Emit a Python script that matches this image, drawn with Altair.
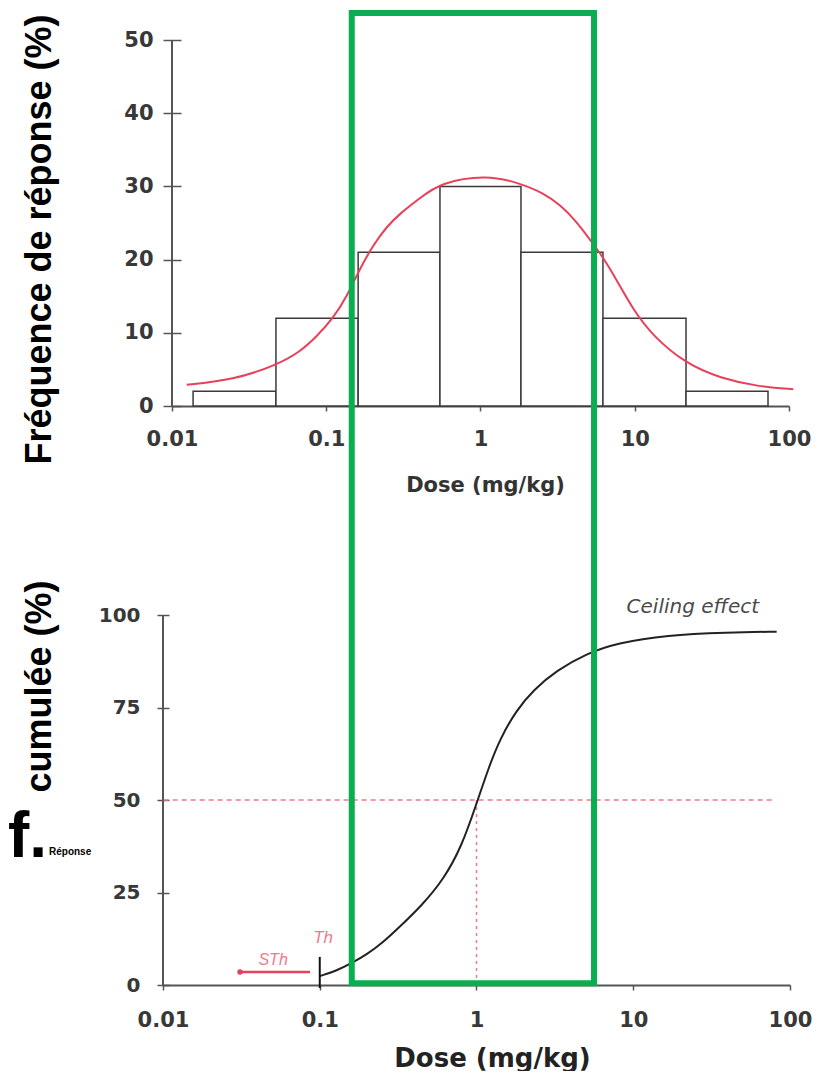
import altair as alt
import pandas as pd

# ---------------- data ----------------
# top panel: histogram (log-dose bins) and fitted curve
bin_lo = [0.0137, 0.0472, 0.161, 0.546, 1.83, 6.22, 21.5]
bin_hi = [0.0472, 0.161, 0.546, 1.83, 6.22, 21.5, 73.1]
bin_freq = [2, 12, 21, 30, 21, 12, 2]

fit_dose = [0.01245, 0.0249, 0.0477, 0.0676, 0.0867, 0.111, 0.1355, 0.1656, 0.2018, 0.2466,
            0.3006, 0.4055, 0.546, 1.097, 1.82, 2.55, 3.28, 4.2, 5.13, 6.2, 7.64, 9.79,
            13.2, 21.4, 35.7, 64.9, 106.6]
fit_freq = [2.9, 3.55, 5.6, 7.4, 9.5, 12.0, 14.9, 18.8, 22.0, 24.5,
            26.3, 28.4, 30.5, 31.6, 30.4, 29.1, 27.5, 25.2, 22.7, 20.4, 17.2, 13.1,
            9.5, 5.8, 3.8, 2.6, 2.3]

# bottom panel: cumulative response
cum_dose = [0.1, 0.13, 0.161, 0.2, 0.25, 0.325, 0.45, 0.614, 0.804, 1.0,
            1.19, 1.41, 1.8, 2.3, 3.24, 5.04, 7.84, 16.3, 40, 82.2]
cum_pct = [2.4, 4.0, 6.0, 8.3, 11.3, 15.8, 21.6, 28.4, 37.4, 49.0,
           58.5, 66.5, 74.3, 79.7, 85.0, 89.6, 92.4, 94.6, 95.3, 95.5]

x_ticks = [0.01, 0.1, 1, 10, 100]
top_y_ticks = [0, 10, 20, 30, 40, 50]
bot_y_ticks = [0, 25, 50, 75, 100]

ed50_dose = [1.0]
ed50_pct = [50]
th_dose = [0.1]
sth_from = [0.0867]
sth_to = [0.031]
sth_level = [3.5]
highlight_lo = [0.16]
highlight_hi = [5.62]

GREEN = "#0aad4f"
RED = "#e8405a"
RED_LIGHT = "#ee7b8a"
AXIS = "#555555"
LABEL = "#383838"
TICKFONT = "DejaVu Sans"
BIGFONT = "Liberation Sans"

# ---------------- top panel ----------------
xs_top = alt.Scale(type="log", domain=[0.01, 100], range=[9, 626], nice=False)
ys_top = alt.Scale(domain=[0, 50], nice=False)

x_axis_top = alt.Axis(values=x_ticks, format="~g", labelFlush=False, labelOverlap=False,
                      grid=False, domainColor=AXIS, domainWidth=2, tickColor=AXIS,
                      tickWidth=1.5, tickSize=5, labelFont=TICKFONT, labelFontWeight="bold",
                      labelFontSize=21, labelColor=LABEL, labelPadding=17,
                      title="Dose (mg/kg)", titleFont=TICKFONT, titleFontWeight="bold",
                      titleFontSize=21, titleColor="#333333", titleX=322, titleY=85,
                      titleBaseline="alphabetic", titleAlign="center")
y_axis_top = alt.Axis(values=top_y_ticks, offset=-18, tickSize=18, domain=False, grid=False,
                      tickColor=AXIS, tickWidth=1.5, labelFont=TICKFONT,
                      labelFontWeight="bold", labelFontSize=21, labelColor=LABEL,
                      labelPadding=10, title="Fréquence de réponse (%)", titleFont=BIGFONT,
                      titleFontWeight="bold", titleFontSize=36, titleColor="black",
                      titleAngle=270, titleX=-131, titleY=199, titleBaseline="alphabetic",
                      titleAlign="center")


def xt(f):
    return alt.X(f, type="quantitative", scale=xs_top, axis=x_axis_top)


def yt(f):
    return alt.Y(f, type="quantitative", scale=ys_top, axis=y_axis_top)


bins_df = pd.DataFrame({"lo": bin_lo, "hi": bin_hi, "freq": bin_freq})
fit_df = pd.DataFrame({"dose": fit_dose, "freq": fit_freq})
top_axis_df = pd.DataFrame({"x": [x_ticks[0]], "y": [top_y_ticks[0]], "y2": [top_y_ticks[-1]]})

bars = alt.Chart(bins_df).mark_rect(fill="white", stroke="#3a3a3a", strokeWidth=1.5).encode(
    x=xt("lo"), x2="hi", y=yt("freq"), y2=alt.datum(0))
fit_line = alt.Chart(fit_df).mark_line(color=RED, strokeWidth=2, interpolate="basis").encode(
    x=xt("dose"), y=yt("freq"))
top_yline = alt.Chart(top_axis_df).mark_rule(color=AXIS, strokeWidth=2).encode(
    x=xt("x"), y=yt("y"), y2="y2")

top = alt.layer(bars, top_yline, fit_line).properties(width=627, height=366)

# ---------------- bottom panel ----------------
xs_bot = alt.Scale(type="log", domain=[0.01, 100], nice=False)
ys_bot = alt.Scale(domain=[0, 100], nice=False)

x_axis_bot = alt.Axis(values=x_ticks, format="~g", labelFlush=False, labelOverlap=False,
                      grid=False, domainColor=AXIS, domainWidth=2, tickColor=AXIS,
                      tickWidth=1.5, tickSize=5, labelFont=TICKFONT, labelFontWeight="bold",
                      labelFontSize=21, labelColor=LABEL, labelPadding=19,
                      title="Dose (mg/kg)", titleFont=TICKFONT, titleFontWeight="bold",
                      titleFontSize=26, titleColor="#222222", titleX=329, titleY=81,
                      titleBaseline="alphabetic", titleAlign="center")
y_axis_bot = alt.Axis(values=bot_y_ticks, offset=-6, tickSize=12, domain=False, grid=False,
                      tickColor=AXIS, tickWidth=1.5, labelFont=TICKFONT,
                      labelFontWeight="bold", labelFontSize=20, labelColor=LABEL,
                      labelPadding=17, title="cumulée (%)", titleFont=BIGFONT,
                      titleFontWeight="bold", titleFontSize=36, titleColor="black",
                      titleAngle=270, titleX=-119, titleY=71, titleBaseline="alphabetic",
                      titleAlign="center")


def xb(f):
    return alt.X(f, type="quantitative", scale=xs_bot, axis=x_axis_bot)


def yb(f):
    return alt.Y(f, type="quantitative", scale=ys_bot, axis=y_axis_bot)


cum_df = pd.DataFrame({"dose": cum_dose, "pct": cum_pct})
bot_axis_df = pd.DataFrame({"x": [x_ticks[0]], "y": [bot_y_ticks[0]], "y2": [bot_y_ticks[-1]]})
hdash_df = pd.DataFrame({"x": [0.0101], "x2": [78], "y": ed50_pct})
vdash_df = pd.DataFrame({"x": ed50_dose, "y": [0], "y2": ed50_pct})
th_df = pd.DataFrame({"x": th_dose, "y": [-0.8], "y2": [7.6]})
sth_df = pd.DataFrame({"x": sth_from, "x2": sth_to, "y": sth_level})
head_df = pd.DataFrame({"x": sth_to, "y": sth_level})
th_txt_df = pd.DataFrame({"x": [0.105], "y": [12.7], "t": ["Th"]})
sth_txt_df = pd.DataFrame({"x": [0.0504], "y": [6.8], "t": ["STh"]})
ceil_df = pd.DataFrame({"x": [24.0], "y": [102.2], "t": ["Ceiling effect"]})
green_df = pd.DataFrame({"x": highlight_lo, "x2": highlight_hi, "y": [0.5], "y2": [262.7]})
f_df = pd.DataFrame({"t": ["f."]})
rep_df = pd.DataFrame({"t": ["Réponse"]})

bot_yline = alt.Chart(bot_axis_df).mark_rule(color=AXIS, strokeWidth=2).encode(
    x=xb("x"), y=yb("y"), y2="y2")
hdash = alt.Chart(hdash_df).mark_rule(color=RED_LIGHT, strokeWidth=1.5, strokeDash=[5, 4]).encode(
    x=xb("x"), x2="x2", y=yb("y"))
vdash = alt.Chart(vdash_df).mark_rule(color=RED_LIGHT, strokeWidth=1.5, strokeDash=[3, 4]).encode(
    x=xb("x"), y=yb("y"), y2="y2")
scurve = alt.Chart(cum_df).mark_line(color="#222222", strokeWidth=2, interpolate="basis").encode(
    x=xb("dose"), y=yb("pct"))
th_tick = alt.Chart(th_df).mark_rule(color="#111111", strokeWidth=2).encode(
    x=xb("x"), y=yb("y"), y2="y2")
sth_line = alt.Chart(sth_df).mark_rule(color=RED, strokeWidth=2.5).encode(
    x=xb("x"), x2="x2", y=yb("y"))
sth_head = alt.Chart(head_df).mark_point(shape="circle", filled=True, color=RED,
                                         size=30, opacity=1).encode(x=xb("x"), y=yb("y"))
th_txt = alt.Chart(th_txt_df).mark_text(font=BIGFONT, fontStyle="italic", fontSize=17,
                                        color=RED_LIGHT).encode(x=xb("x"), y=yb("y"), text="t:N")
sth_txt = alt.Chart(sth_txt_df).mark_text(font=BIGFONT, fontStyle="italic", fontSize=16,
                                          color=RED_LIGHT).encode(x=xb("x"), y=yb("y"), text="t:N")
ceil_txt = alt.Chart(ceil_df).mark_text(font=TICKFONT, fontStyle="italic", fontSize=20,
                                        color="#4a4a4a").encode(x=xb("x"), y=yb("y"), text="t:N")
f_txt = alt.Chart(f_df).mark_text(font=BIGFONT, fontWeight="bold", fontSize=64, color="black",
                                  align="left", baseline="alphabetic").encode(
    x=alt.value(-155), y=alt.value(242), text="t:N")
rep_txt = alt.Chart(rep_df).mark_text(font=BIGFONT, fontWeight="bold", fontSize=10, color="black",
                                      align="left", baseline="alphabetic").encode(
    x=alt.value(-114), y=alt.value(240), text="t:N")
green = alt.Chart(green_df).mark_rect(fill="white", fillOpacity=0, stroke=GREEN,
                                      strokeWidth=6).encode(
    x=xb("x"), x2="x2", y=yb("y"), y2="y2")

bottom = alt.layer(bot_yline, hdash, vdash, scurve, th_tick, sth_line, sth_head, th_txt,
                   sth_txt, ceil_txt, f_txt, rep_txt, green).properties(width=627, height=370)

chart = alt.vconcat(top, bottom, spacing=209, bounds="flush").properties(
    padding={"left": 0, "top": 2, "right": 0, "bottom": 0},
    background="white",
).configure_view(strokeWidth=0)

chart.save("out.html", embed_options={"renderer": "svg", "actions": False})
